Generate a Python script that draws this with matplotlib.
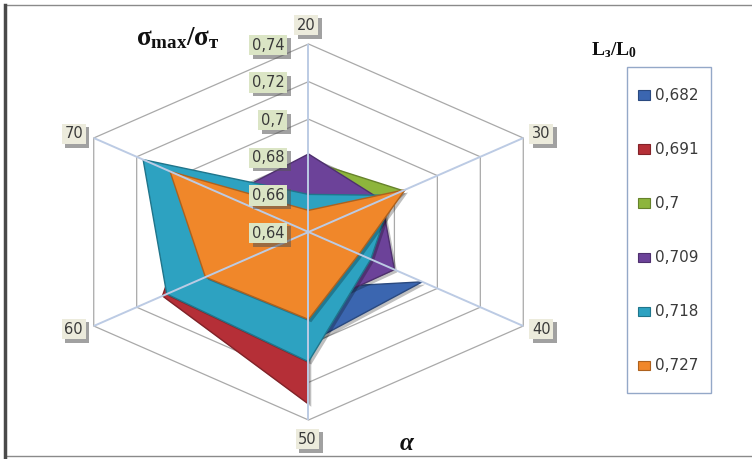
import numpy as np
import matplotlib as mpl
mpl.use('Agg')
import matplotlib.pyplot as plt
from matplotlib.patches import Polygon, Rectangle
import matplotlib.patheffects as pe
from matplotlib.colors import to_rgb

plt.rcParams['font.family'] = ['DejaVu Sans']
plt.rcParams['mathtext.fontset'] = 'custom'
plt.rcParams['mathtext.rm'] = 'Liberation Serif'
plt.rcParams['mathtext.bf'] = 'Liberation Serif:bold'
plt.rcParams['mathtext.it'] = 'Liberation Serif:italic'

# angle alpha, clockwise from the top
categories = ['20', '30', '40', '50', '60', '70']

# sigma_max / sigma_T for each L3/L0 ratio
series_labels = ['0,682', '0,691', '0,7', '0,709', '0,718', '0,727']
s_0682 = [0.660, 0.572, 0.693, 0.699, 0.680, 0.670]
s_0691 = [0.665, 0.660, 0.640, 0.7315, 0.708, 0.690]
s_0700 = [0.678, 0.684, 0.655, 0.675, 0.680, 0.675]
s_0709 = [0.6815, 0.674, 0.680, 0.681, 0.675, 0.678]
s_0718 = [0.660, 0.679, 0.669, 0.709, 0.706, 0.717]
s_0727 = [0.6515, 0.685, 0.6635, 0.6865, 0.688, 0.7045]
series = [s_0682, s_0691, s_0700, s_0709, s_0718, s_0727]
colors = ['#3b66b0', '#b52f37', '#8db53c', '#6c4299', '#2da2c1', '#f0872a']

r_ticks = [0.64, 0.66, 0.68, 0.70, 0.72, 0.74]
r_tick_labels = ['0,64', '0,66', '0,68', '0,7', '0,72', '0,74']
r_min, r_max = r_ticks[0], r_ticks[-1]

W, H = 752, 459
cx, cy = 308.5, 232          # centre of the web, pixels from top-left
sx, sy = 248, 188            # pixels per unit radius

angles = np.deg2rad(90 - 60 * np.arange(len(categories)))


def to_xy(values):
    f = (np.asarray(values, dtype=float) - r_min) / (r_max - r_min)
    return np.column_stack([f * np.cos(angles), f * np.sin(angles)])


def fig_xy(px, py):
    return px / W, 1 - py / H


def darker(c, k=0.72):
    return tuple(v * k for v in to_rgb(c))


fig = plt.figure(figsize=(W / 100, H / 100), dpi=100)
ax = fig.add_axes([0, 0, 1, 1])
ax.set_xlim(-cx / sx, (W - cx) / sx)
ax.set_ylim(-(H - cy) / sy, cy / sy)
ax.axis('off')

# hexagonal rings
for t in r_ticks[1:]:
    ring = Polygon(to_xy([t] * 6), closed=True, fill=False,
                   edgecolor='#a9a9a9', lw=0.9, zorder=1)
    ax.add_patch(ring)

# filled series, last one on top
for i, (vals, c) in enumerate(zip(series, colors)):
    poly = Polygon(to_xy(vals), closed=True, facecolor=c,
                   edgecolor=darker(c), lw=1.0, zorder=2 + i,
                   path_effects=[pe.SimplePatchShadow(offset=(2, -2), shadow_rgbFace='k', alpha=0.25),
                                 pe.Normal()])
    ax.add_patch(poly)

# spokes drawn over the fills
outer = to_xy([r_max] * 6)
for x, y in outer:
    ax.plot([0, x], [0, y], color='#bccbe4', lw=1.4, zorder=10, solid_capstyle='butt')


def boxed(xy, text, offset, face, fontsize, ha='center'):
    t = ax.annotate(text, xy, xytext=offset, textcoords='offset pixels',
                    ha=ha, va='center', fontsize=fontsize, color='#3a3a3a', zorder=12,
                    bbox=dict(boxstyle='square,pad=0.18', fc=face, ec='none'))
    t.get_bbox_patch().set_path_effects(
        [pe.SimplePatchShadow(offset=(2.5, -2.5), shadow_rgbFace='#555555', alpha=0.55),
         pe.Normal()])
    return t


# category labels
cat_offsets = [(-2, 19), (18, 4), (18, -3), (-1, -19), (-20, -3), (-20, 4)]
for (x, y), lab, off in zip(outer, categories, cat_offsets):
    boxed((x, y), lab, off, '#ecebdc', 10.5)

# radial tick labels along the top spoke
for t, lab in zip(r_ticks, r_tick_labels):
    f = (t - r_min) / (r_max - r_min)
    boxed((0, f), lab, (-24, -1), '#dbe5c5', 10.5, ha='right')

# axis titles
fig.text(*fig_xy(178, 38), r'$\mathbf{σ_{max}/σ_{т}}$', fontsize=19.5,
         ha='center', va='center', color='#111111')
fig.text(*fig_xy(614, 50), r'$\mathbf{L_{з}/L_{0}}$', fontsize=14,
         ha='center', va='center', color='#111111')
fig.text(*fig_xy(407, 443), 'α', fontsize=18, family='Liberation Serif',
         style='italic', weight='bold', ha='center', va='center', color='#111111')

# legend box
lx0, ly0, lx1, ly1 = 627, 67, 711, 393
fig.patches.append(Rectangle(fig_xy(lx0, ly1), (lx1 - lx0) / W, (ly1 - ly0) / H,
                             transform=fig.transFigure, fill=True, facecolor='white',
                             edgecolor='#94a8c8', lw=1.0, zorder=1))
for i, (lab, c) in enumerate(zip(series_labels, colors)):
    yc = 95 + 54 * i
    fig.patches.append(Rectangle(fig_xy(638, yc + 4.5), 12 / W, 9 / H,
                                 transform=fig.transFigure, facecolor=c,
                                 edgecolor=darker(c), lw=0.8, zorder=2))
    fig.text(*fig_xy(655, yc), lab, fontsize=11, color='#3a3a3a',
             ha='left', va='center', zorder=3)

# chart frame
fig.patches.append(Rectangle(fig_xy(5, 456), (W + 10 - 5) / W, (456 - 5) / H,
                             transform=fig.transFigure, fill=False,
                             edgecolor='#8a8a8a', lw=1.0, zorder=0))
fig.lines.append(plt.Line2D([5 / W, 5 / W], [0, 1 - 5 / H], transform=fig.transFigure,
                            color='#4a4a4a', lw=2.5))

fig.savefig('out.png', dpi=100)
